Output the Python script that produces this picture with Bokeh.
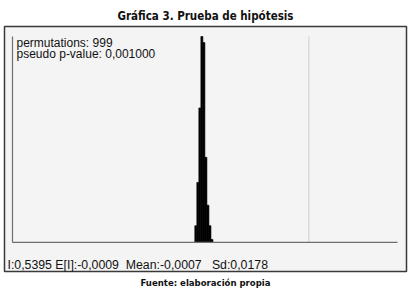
from bokeh.plotting import figure
from bokeh.models import Label, Range1d, ColumnDataSource, Title
from bokeh.embed import file_html
from bokeh.resources import INLINE

# Data
bin_left = [-0.053, -0.0425, -0.032, -0.0215, -0.011, -0.0005, 0.010, 0.0205, 0.031]
bin_width = 0.0105
counts = [22, 79, 177, 271, 263, 112, 49, 22, 4]
observed_I = 0.5395
expected_I = -0.0009
mean_I = -0.0007
sd_I = 0.0178
permutations = 999
pseudo_p = "0,001000"
x_min, x_max = -1.0, 1.0

title_text = "Gráfica 3. Prueba de hipótesis"
footer_text = "Fuente: elaboración propia"
stats_text = "I:0,5395 E[I]:-0,0009\u00a0 Mean:-0,0007\u00a0\u00a0 Sd:0,0178"

W, H = 409, 292
# range padding (fraction of the -1..1 span / of the max count) leaves room for the texts
x_pad_l, x_pad_r = 0.0208, 0.0234
y_pad_top, y_pad_bot = 0.0486, 0.141
ymax = max(counts)

cond = "DejaVu Sans Condensed, Liberation Sans Narrow, Roboto Condensed, Liberation Sans"

p = figure(width=W, height=H, output_backend="svg", toolbar_location=None,
           x_range=Range1d(x_min - x_pad_l * (x_max - x_min), x_max + x_pad_r * (x_max - x_min)),
           y_range=Range1d(-y_pad_bot * ymax, ymax * (1 + y_pad_top)),
           min_border_left=4, min_border_right=3, min_border_top=26, min_border_bottom=21)
p.axis.visible = False
p.grid.visible = False
p.outline_line_color = "#3a3a3a"
p.outline_line_width = 1.5
p.background_fill_color = "#f4f4f4"
p.border_fill_color = "white"

p.title = Title(text=title_text, align="center", text_font=cond, standoff=8,
                text_font_size="11.5px", text_font_style="bold", text_color="#111111")
p.add_layout(Title(text=footer_text, align="center", text_font=cond, standoff=7,
                   text_font_size="9.5px", text_font_style="bold", text_color="#111111"), "below")

# observed I line
p.segment(x0=[observed_I], y0=[0], x1=[observed_I], y1=[ymax], line_color="#dadada", line_width=1.5)

src = ColumnDataSource(dict(left=bin_left, right=[b + bin_width for b in bin_left],
                            top=counts, bottom=[0] * len(counts)))
p.quad(left="left", right="right", top="top", bottom="bottom", source=src,
       fill_color="black", line_color="black", line_width=0.6)

# axis lines of the histogram
p.segment(x0=[x_min], y0=[0], x1=[x_min], y1=[ymax], line_color="#6e6e6e", line_width=1.2)
p.segment(x0=[x_min], y0=[0], x1=[x_max], y1=[0], line_color="#6e6e6e", line_width=1.2)

def lab(text, x, y, size):
    p.add_layout(Label(x=x, y=y, x_units="canvas", y_units="canvas", text=text,
                       text_font="Liberation Sans", text_font_size=size,
                       text_align="left", text_baseline="alphabetic", text_color="#111111"))

lab(f"permutations: {permutations}", 16, 42, "12px")
lab(f"pseudo p-value: {pseudo_p}", 16, 53, "12px")
lab(stats_text, 7, 264, "12.3px")

open("out.html", "w").write(file_html(p, INLINE))
